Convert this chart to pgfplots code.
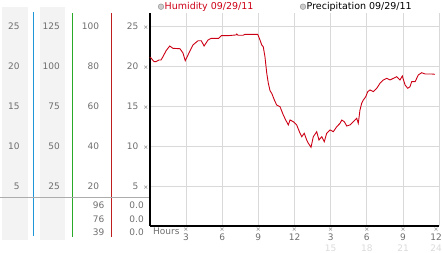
\documentclass[border=0pt]{standalone}
\usepackage{fontspec}
\setmainfont{DejaVu Sans}
\usepackage{pgfplots}
\pgfplotsset{compat=1.18}
\definecolor{hum}{RGB}{204,0,21}
\definecolor{tickgray}{RGB}{110,110,110}
\definecolor{gridgray}{RGB}{217,217,217}
\definecolor{bggray}{RGB}{243,243,243}
\definecolor{colA}{RGB}{30,150,215}
\definecolor{colB}{RGB}{40,170,40}
\definecolor{colC}{RGB}{190,30,30}
\definecolor{faint}{RGB}{218,218,218}
\definecolor{markgray}{RGB}{120,120,120}
\newcommand{\tm}{{\fontsize{6}{6}\selectfont\color{markgray}×}}
\newcommand{\nf}{\fontsize{9}{9}\selectfont}
\begin{document}
\begin{tikzpicture}
\begin{scope}[x=1pt,y=1pt]
\path[use as bounding box] (0,0) rectangle (442,253);
\fill[bggray] (2,13) rectangle (28,246);
\fill[bggray] (40,13) rectangle (65,246);
\fill[colA] (33,17) rectangle (34.2,241);
\fill[colB] (72,16) rectangle (73.2,240);
\fill[colC] (111,16) rectangle (112.2,240);
\draw[gray!65, line width=1.5pt] (0,55.7) -- (149.8,55.7);
\foreach \v/\a/\b in {5/25/20,10/50/40,15/75/60,20/100/80,25/125/100}{
  \node[anchor=east, inner sep=0pt, text=tickgray, font=\nf] at (19.8,27+8*\v) {\v};
  \node[anchor=east, inner sep=0pt, text=tickgray, font=\nf] at (60,27+8*\v) {\a};
  \node[anchor=east, inner sep=0pt, text=tickgray, font=\nf] at (99.3,27+8*\v) {\b};
}
\foreach \r/\yy in {96/48,76/34,39/21}{
  \node[anchor=east, inner sep=0pt, text=tickgray, font=\nf] at (104.5,\yy) {\r};
  \node[anchor=east, inner sep=0pt, text=tickgray, font=\nf] at (144,\yy) {0.0};
}
\node[anchor=west, inner sep=0pt, text=tickgray, font=\nf] at (153,21.5) {Hours};
% legend
\filldraw[fill=gray!40, draw=gray!80, line width=0.5pt] (161,246.3) circle (2.8);
\node[anchor=west, inner sep=0pt, text=hum, font=\fontsize{9.5}{10}\selectfont] at (164.5,246.3) {Humidity 09/29/11};
\filldraw[fill=gray!40, draw=gray!80, line width=0.5pt] (303,246.3) circle (2.8);
\node[anchor=west, inner sep=0pt, text=black, font=\fontsize{9.5}{10}\selectfont] at (306.5,246.3) {Precipitation 09/29/11};
\end{scope}
\begin{axis}[
  at={(149.8pt,27pt)}, anchor=south west,
  scale only axis, width=289.4pt, height=213pt,
  xmin=0, xmax=24, ymin=0, ymax=26.625,
  axis x line*=bottom, axis y line*=left,
  axis line style={-, black, line width=1.5pt},
  xtick={3,6,9,12,15,18,21,24},
  xticklabels={{\tm\\3},{\tm\\6},{\tm\\9},{\tm\\12},{\tm\\3},{\tm\\6},{\tm\\9},{\hspace*{-6pt}\tm\\\hspace*{-6pt}12}},
  ytick={5,10,15,20,25},
  yticklabels={{5\hspace{5pt}\tm},{10\hspace{5pt}\tm},{15\hspace{5pt}\tm},{20\hspace{5pt}\tm},{25\hspace{5pt}\tm}},
  major tick length=0pt,
  grid=major, grid style={gridgray, line width=0.9pt},
  /pgf/number format/assume math mode=true,
  xticklabel style={font=\nf, text=tickgray, anchor=north, inner sep=0pt, yshift=-1.5pt, align=center},
  yticklabel style={font=\nf, text=tickgray, anchor=east, inner sep=0pt, xshift=-1.3pt},
  extra x ticks={15,18,21,24},
  extra x tick labels={15,18,21,{\hspace*{-6pt}24}},
  extra x tick style={grid=none, major tick length=0pt, xticklabel style={font=\nf, text=faint, anchor=north, inner sep=0pt, yshift=-17pt}},
  clip=false,
]
\addplot[hum, line width=0.9pt] coordinates {
(0,21.09)(0.10,21.0)(0.35,20.54)(0.51,20.54)(0.76,20.75)(0.93,20.75)(1.09,21.16)(1.34,21.88)(1.65,22.5)(1.92,22.21)(2.50,22.16)(2.75,21.63)(2.94,20.66)(3.25,21.63)(3.58,22.63)(4.00,23.16)(4.27,23.16)(4.50,22.5)(4.83,23.25)(5.10,23.46)(5.71,23.46)(5.93,23.79)(6.49,23.79)(7.15,23.88)(7.21,24.0)(7.32,23.84)(7.73,23.84)(7.90,23.96)(8.95,23.96)(9.14,23.25)(9.28,22.63)(9.41,22.41)(9.55,21.16)(9.70,19.09)(9.83,17.84)(9.97,16.91)(10.11,16.59)(10.33,15.75)(10.52,15.13)(10.80,14.91)(11.07,13.88)(11.27,13.25)(11.49,12.63)(11.63,13.25)(11.90,13.04)(12.18,12.63)(12.46,11.59)(12.60,11.16)(12.81,11.59)(13.01,10.75)(13.15,10.34)(13.37,9.84)(13.56,11.16)(13.84,11.79)(14.03,10.75)(14.26,11.16)(14.47,10.54)(14.67,11.59)(14.95,12.0)(15.22,11.79)(15.50,12.41)(15.78,12.84)(15.92,13.25)(16.13,13.04)(16.33,12.5)(16.60,12.63)(16.88,13.04)(17.16,13.46)(17.29,12.84)(17.43,14.5)(17.57,15.34)(17.71,15.75)(17.91,16.16)(18.07,16.79)(18.26,17.0)(18.54,16.79)(18.82,17.21)(19.09,17.84)(19.37,18.25)(19.65,18.46)(19.92,18.25)(20.20,18.46)(20.48,18.66)(20.75,18.25)(20.94,18.75)(21.17,17.63)(21.39,17.21)(21.58,17.41)(21.72,18.04)(22.0,18.04)(22.27,18.88)(22.55,19.16)(22.83,19.0)(23.38,19.0)(23.65,18.96)
};
\end{axis}
\end{tikzpicture}
\end{document}
